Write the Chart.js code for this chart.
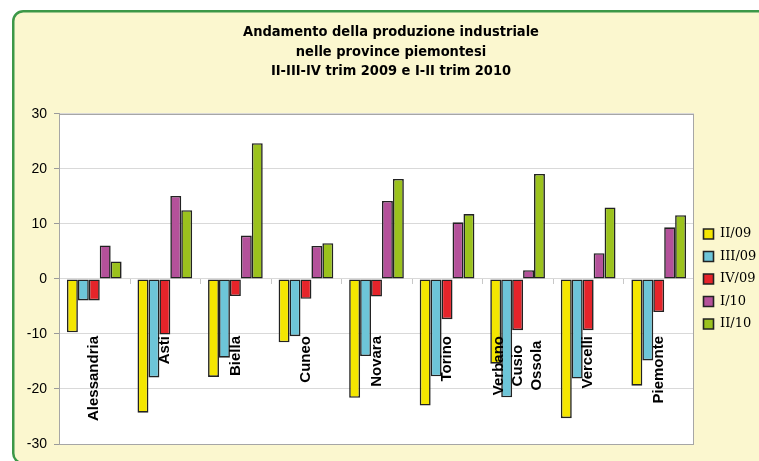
<!DOCTYPE html>
<html>
<head>
<meta charset="utf-8">
<script src="https://cdn.jsdelivr.net/npm/chart.js@4/dist/chart.umd.min.js"></script>
<style>
  html, body { margin: 0; padding: 0; background: #ffffff; }
  #wrap { width: 759px; height: 461px; position: relative; }
</style>
</head>
<body>
<div id="wrap"><canvas id="c" width="759" height="461"></canvas></div>
<script>
// ---- Data ----
const categories = ['Alessandria', 'Asti', 'Biella', 'Cuneo', 'Novara', 'Torino', ['Verbano', 'Cusio', 'Ossola'], 'Vercelli', 'Piemonte'];
const seriesNames = ['II/09', 'III/09', 'IV/09', 'I/10', 'II/10'];
const valuesII09  = [-9.7, -24.3, -17.8, -11.5, -21.6, -23.0, -15.4, -25.3, -19.4];
const valuesIII09 = [-3.9, -17.9, -14.3, -10.4, -14.0, -17.7, -21.5, -18.1, -14.8];
const valuesIV09  = [-3.9, -10.1, -3.1, -3.6, -3.2, -7.3, -9.3, -9.3, -6.0];
const valuesI10   = [6.1, 15.1, 7.9, 6.0, 14.2, 10.3, 1.6, 4.7, 9.4];
const valuesII10  = [3.2, 12.5, 24.7, 6.5, 18.2, 11.8, 19.1, 13.0, 11.6];
const yTicks = [-30, -20, -10, 0, 10, 20, 30];
const titleLines = ['Andamento della produzione industriale', 'nelle province piemontesi', 'II-III-IV trim 2009 e I-II trim 2010'];

const seriesColors = ['#F4E600', '#6DC5D8', '#E5242A', '#B4519A', '#9BC21D'];
const allValues = [valuesII09, valuesIII09, valuesIV09, valuesI10, valuesII10];

const panelPlugin = {
  id: 'panel',
  beforeDraw(chart) {
    const ctx = chart.ctx;
    ctx.save();
    ctx.fillStyle = '#ffffff';
    ctx.fillRect(0, 0, chart.width, chart.height);
    ctx.beginPath();
    ctx.roundRect(13.25, 11.25, 790, 452, 10);
    ctx.fillStyle = '#FBF7CF';
    ctx.fill();
    ctx.lineWidth = 2.5;
    ctx.strokeStyle = '#3C9848';
    ctx.stroke();
    const a = chart.chartArea;
    ctx.fillStyle = '#ffffff';
    ctx.fillRect(a.left, a.top, a.right - a.left, a.bottom - a.top);
    ctx.restore();
  },
  beforeDatasetsDraw(chart) {
    const ctx = chart.ctx;
    const a = chart.chartArea;
    const xs = chart.scales.x, ys = chart.scales.y;
    ctx.save();
    ctx.strokeStyle = '#A6A6A6';
    ctx.lineWidth = 1;
    ctx.strokeRect(Math.round(a.left) + 0.5, Math.round(a.top) + 0.5, Math.round(a.right - a.left) - 1, Math.round(a.bottom - a.top));
    // category ticks on the zero line
    const y0 = Math.round(ys.getPixelForValue(0));
    ctx.strokeStyle = '#C8C8C8';
    for (let i = 0; i < categories.length - 1; i++) {
      const xb = Math.round((xs.getPixelForValue(i) + xs.getPixelForValue(i + 1)) / 2) + 0.5;
      ctx.beginPath();
      ctx.moveTo(xb, y0);
      ctx.lineTo(xb, y0 + 5);
      ctx.stroke();
    }
    ctx.restore();
  },
  afterDatasetsDraw(chart) {
    const ctx = chart.ctx;
    const xs = chart.scales.x, ys = chart.scales.y;
    const top = ys.getPixelForValue(-10) + 2;
    ctx.save();
    ctx.font = 'bold 15px "Liberation Sans", Arial, sans-serif';
    ctx.fillStyle = '#000000';
    ctx.textAlign = 'center';
    ctx.textBaseline = 'middle';
    categories.forEach((cat, i) => {
      const lines = Array.isArray(cat) ? cat : [cat];
      const maxW = Math.max(...lines.map(l => ctx.measureText(l).width));
      const cx = xs.getPixelForValue(i);
      lines.forEach((line, j) => {
        const lx = cx + (j - (lines.length - 1) / 2) * 19;
        ctx.save();
        ctx.translate(lx, top + maxW / 2);
        ctx.rotate(-Math.PI / 2);
        ctx.fillText(line, 0, 0);
        ctx.restore();
      });
    });
    ctx.restore();
  }
};

new Chart(document.getElementById('c'), {
  type: 'bar',
  data: {
    labels: categories.map(c => Array.isArray(c) ? c.join(' ') : c),
    datasets: seriesNames.map((name, k) => ({
      label: name,
      data: allValues[k],
      backgroundColor: seriesColors[k],
      borderColor: '#222222',
      borderWidth: 1.6,
      borderSkipped: false,
      categoryPercentage: 0.775,
      barPercentage: 1.0
    }))
  },
  options: {
    responsive: false,
    animation: false,
    devicePixelRatio: 1,
    layout: { padding: { left: 23, right: 0, top: 0, bottom: 17 } },
    plugins: {
      title: {
        display: true,
        text: titleLines,
        color: '#000000',
        font: { family: '"DejaVu Sans Condensed", "Liberation Sans", sans-serif', size: 14.5, weight: 'bold', lineHeight: 1.35 },
        padding: { top: 22.5, bottom: 32.75 }
      },
      legend: {
        position: 'right',
        fullSize: false,
        maxWidth: 65,
        labels: {
          boxWidth: 10,
          boxHeight: 10,
          padding: 9.5,
          color: '#000000',
          font: { family: '"DejaVu Serif", serif', size: 13 }
        }
      },
      tooltip: { enabled: false }
    },
    scales: {
      x: {
        type: 'category',
        display: false
      },
      y: {
        min: -30,
        max: 30,
        afterFit(scale) { scale.width = 36; },
        afterBuildTicks(scale) { scale.ticks = yTicks.map(v => ({ value: v })); },
        ticks: {
          stepSize: 10,
          color: '#000000',
          padding: 7,
          font: { family: '"Liberation Sans", Arial, sans-serif', size: 14 }
        },
        grid: {
          color: '#D9D9D9',
          tickColor: '#9A9A9A',
          tickLength: 5,
          lineWidth: 1
        },
        border: { color: '#A6A6A6', width: 1 }
      }
    }
  },
  plugins: [panelPlugin]
});
</script>
</body>
</html>
